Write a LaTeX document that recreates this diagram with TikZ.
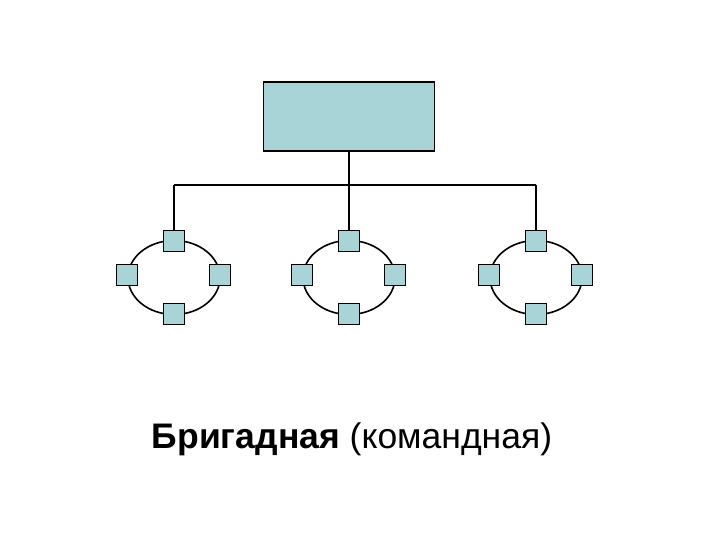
\documentclass[tikz,border=0pt]{standalone}
\usepackage{fontspec}
\setmainfont{Liberation Sans}
\definecolor{boxfill}{HTML}{A8D4D8}
\begin{document}
\begin{tikzpicture}[x=1pt,y=-1pt,
  sq/.style={draw,fill=boxfill,minimum size=21pt,inner sep=0pt,line width=1pt},
  ln/.style={line width=1.6pt}]
\useasboundingbox (0,0) rectangle (720,540);
\node[draw,fill=boxfill,minimum width=171pt,minimum height=69pt,line width=1.2pt] (top) at (349,116.5) {};
\coordinate (j) at (349,185);
\coordinate (jl) at (174,185);
\coordinate (jr) at (536,185);
\draw[ln] (top.south) -- (j);
\draw[ln] (jl) -- (jr);
\foreach \n/\cx in {a/174,b/349,c/536}{
  \draw[ln] (\cx,277.5) ellipse [x radius=46, y radius=37];
  \node[sq] (\n t) at (\cx,241) {};
  \node[sq] (\n l) at (\cx-47,275) {};
  \node[sq] (\n r) at (\cx+46,275) {};
  \node[sq] (\n b) at (\cx,314) {};
}
\draw[ln] (jl) -- (at.north);
\draw[ln] (j) -- (bt.north);
\draw[ln] (jr) -- (ct.north);
\node[anchor=base,font=\fontsize{35.5}{40}\selectfont] (cap) at (352,448) {\textbf{Бригадная} (командная)};
\end{tikzpicture}
\end{document}
